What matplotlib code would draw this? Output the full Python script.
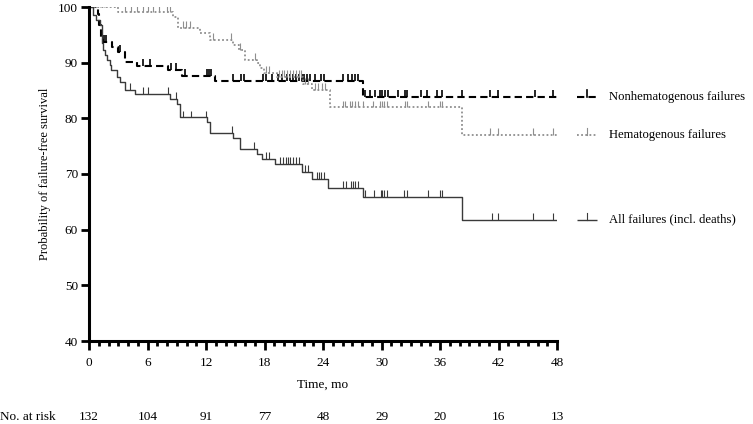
import numpy as np
import matplotlib
matplotlib.use("Agg")
import matplotlib.pyplot as plt
from matplotlib.transforms import blended_transform_factory

plt.rcParams['font.family'] = ['Liberation Serif', 'DejaVu Serif']

# ---- data ----
all_t = [0, 0.4, 0.7, 1.1, 1.3, 1.35, 1.45, 1.6, 1.8, 2.2, 2.3, 2.9, 3.2, 3.7, 4.7,
         8.3, 9.0, 9.3, 12.1, 12.4, 14.8, 15.5, 17.2, 17.7, 19.1, 21.8, 22.9, 24.5, 28.1, 38.3]
all_s = [100, 98.6, 97.7, 96.8, 95.3, 93.5, 92.3, 91.4, 90.5, 89.6, 88.7, 87.4, 86.5, 85.1, 84.4,
         83.5, 82.6, 80.2, 79.4, 77.4, 76.5, 74.5, 73.6, 72.7, 71.8, 70.4, 69.1, 67.5, 65.9, 61.8]
all_cens = [4.2, 5.5, 6.0, 8.1, 8.9, 9.6, 10.5, 12.0, 14.7, 16.9, 18.2, 18.5, 19.6, 19.9, 20.2,
            20.4, 20.6, 20.9, 21.2, 21.5, 22.2, 22.5, 23.4, 23.6, 23.8, 24.1, 26.1, 26.4, 26.9,
            27.1, 27.3, 27.6, 28.3, 29.2, 29.9, 30.1, 30.3, 30.6, 32.3, 32.6, 34.8, 36.0, 36.2,
            41.3, 41.9, 45.5, 47.6]

nh_t = [0, 0.9, 1.0, 1.2, 1.4, 2.4, 3.0, 3.7, 4.9, 8.1, 9.5, 12.9, 28.1]
nh_s = [100, 98.8, 96.8, 94.6, 93.7, 92.8, 91.9, 90.1, 89.4, 88.7, 87.6, 86.7, 83.9]
nh_cens = [1.5, 1.7, 3.2, 5.5, 6.3, 8.4, 8.9, 9.8, 12.1, 12.3, 12.5, 14.8, 15.6, 15.9, 17.8,
           18.2, 18.8, 19.4, 19.8, 20.3, 20.6, 20.9, 21.2, 21.5, 21.8, 22.1, 22.4, 22.7, 23.2,
           23.8, 24.1, 26.0, 26.6, 27.0, 27.3, 27.6, 28.3, 28.8, 29.3, 29.8, 30.1, 30.4, 30.7,
           31.7, 32.4, 32.6, 34.0, 34.7, 35.7, 36.2, 38.3, 41.1, 41.9, 45.7, 47.6]

hem_t = [0, 3.0, 8.6, 9.1, 11.4, 12.4, 14.8, 15.4, 16.0, 17.2, 17.5, 17.9, 19.3, 21.9, 22.9, 24.7, 38.3]
hem_s = [100, 99.1, 98.2, 96.2, 95.3, 94.1, 93.2, 92.3, 90.5, 89.9, 89.0, 88.2, 87.5, 86.1, 85.1, 82.0, 77.0]
hem_cens = [0.2, 0.4, 0.6, 0.7, 0.9, 1.1, 1.3, 1.5, 1.8, 2.6, 3.7, 4.3, 4.9, 5.5, 6.0, 6.6, 7.2,
            8.0, 8.3, 9.6, 9.9, 10.4, 12.7, 14.6, 15.5, 17.0, 18.2, 18.5, 19.5, 19.8, 20.0, 20.3,
            20.6, 20.9, 21.2, 21.5, 21.7, 22.2, 22.5, 23.2, 23.5, 23.9, 24.2, 26.0, 26.3, 26.8,
            27.0, 27.3, 27.6, 28.1, 29.1, 29.8, 30.1, 30.3, 30.6, 32.4, 32.6, 34.8, 36.0, 36.2,
            41.1, 41.9, 45.5, 47.6]

t_end = 48
xticks = [0, 6, 12, 18, 24, 30, 36, 42, 48]
at_risk = [132, 104, 91, 77, 48, 29, 20, 16, 13]
yticks = [40, 50, 60, 70, 80, 90, 100]

labels = ["Nonhematogenous failures", "Hematogenous failures", "All failures (incl. deaths)"]

# ---- figure ----
fig = plt.figure(figsize=(7.53, 4.24), dpi=100)
ax = fig.add_axes([89/753, 1-341/424, 468/753, 334/424])

styles = [
    dict(color="black", lw=1.5, dashes=(3.5, 2.0)),
    dict(color="#8f8f8f", lw=1.3, dashes=(1.0, 1.3)),
    dict(color="#3a3a3a", lw=1.0),
]
tick_colors = ["black", "#8f8f8f", "#3a3a3a"]
tick_lw = [1.2, 0.8, 0.8]

series = [(nh_t, nh_s, nh_cens), (hem_t, hem_s, hem_cens), (all_t, all_s, all_cens)]
tick_h = 1.2
for (t, s, c), st, tc, tl, lab in zip(series, styles, tick_colors, tick_lw, labels):
    tt = list(t) + [t_end]
    ss = list(s) + [s[-1]]
    ax.step(tt, ss, where="post", solid_capstyle="butt", dash_capstyle="butt", **st)
    idx = np.searchsorted(np.array(t), np.array(c), side="right") - 1
    yc = np.array(s)[idx]
    ax.vlines(c, yc, yc + tick_h, color=tc, lw=tl)
    # legend entry at the curve's final level
    yl = s[-1]
    ax.plot([50.0, 52.1], [yl, yl], clip_on=False, solid_capstyle="butt",
            dash_capstyle="butt", **st)
    ax.plot([51.05, 51.05], [yl, yl + tick_h], color=tc, lw=tl, clip_on=False)
    ax.text(53.3, yl, lab, fontsize=9.1, va="center", ha="left", clip_on=False)

ax.set_xlim(0, 48)
ax.set_ylim(40, 100)
ax.set_xticks(xticks)
ax.set_xticks(np.arange(0, 49, 1), minor=True)
ax.set_yticks(yticks)
ax.set_xticklabels([str(v) for v in xticks])
ax.set_yticklabels([str(v) for v in yticks])
for sp in ["top", "right"]:
    ax.spines[sp].set_visible(False)
for sp in ["left", "bottom"]:
    ax.spines[sp].set_linewidth(2.2)
ax.tick_params(axis="x", which="major", length=6.5, width=2.0, direction="out", pad=5, labelsize=9.5)
ax.tick_params(axis="x", which="minor", length=3.5, width=2.0, direction="out")
ax.tick_params(axis="y", which="major", length=6, width=2.0, direction="out", pad=2, labelsize=9.5)

fig.text(45/753, 1-174/424, "Probability of failure-free survival", rotation=90,
         ha="center", va="center", fontsize=9)
tr = blended_transform_factory(ax.transData, fig.transFigure)
ax.text(24, 1-385/424, "Time, mo", transform=tr, ha="center", va="center", fontsize=9.5)
fig.text(0.0, 1-417/424, "No. at risk", ha="left", va="center", fontsize=9.5)
for x, n in zip(xticks, at_risk):
    ax.text(x, 1-417/424, str(n), transform=tr, ha="center", va="center", fontsize=9.5)

fig.savefig("out.png", dpi=100, facecolor="white")
